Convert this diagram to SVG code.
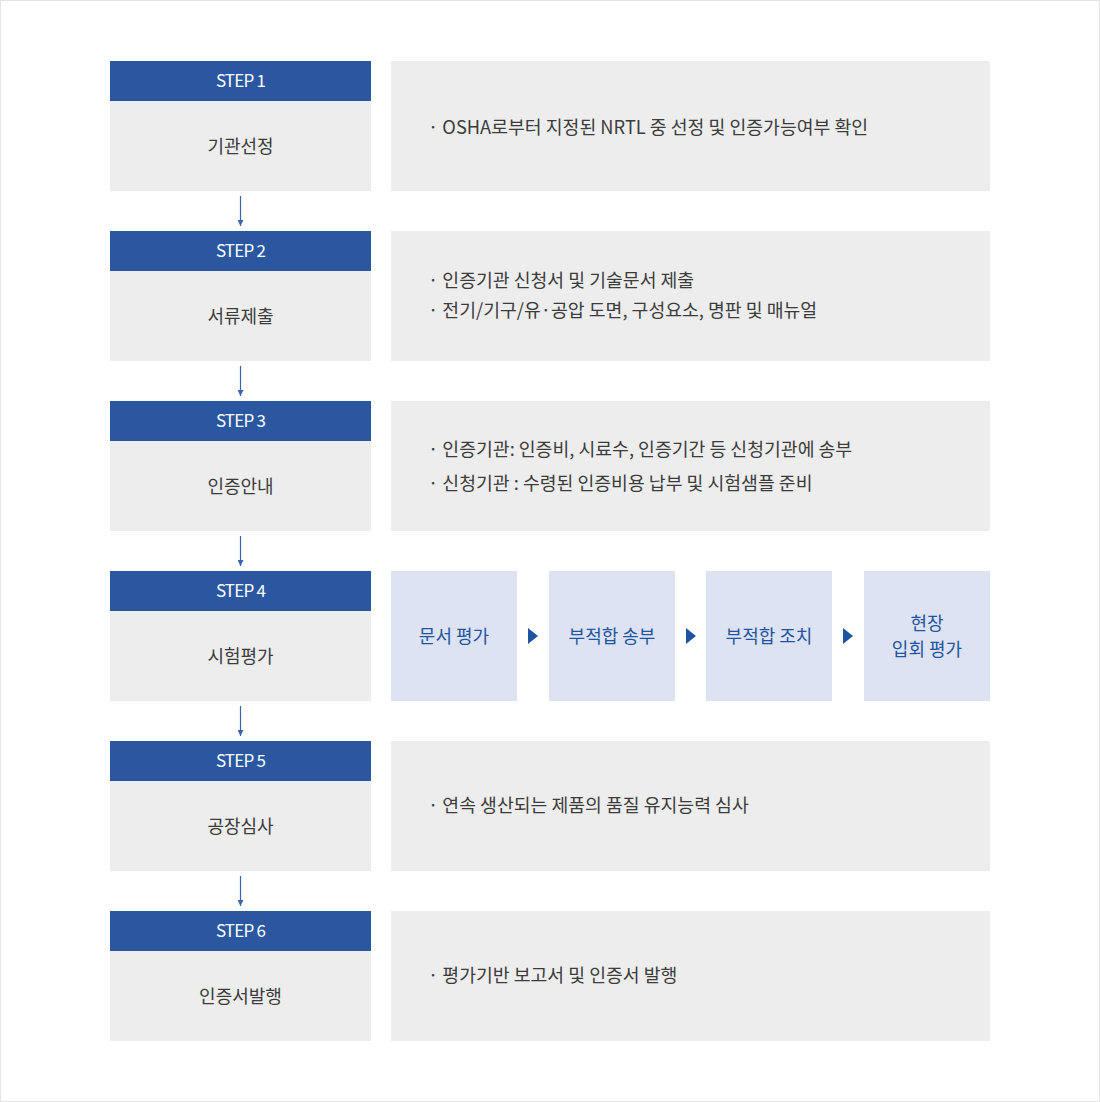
<svg xmlns="http://www.w3.org/2000/svg" width="1100" height="1102" viewBox="0 0 1100 1102">
<defs>
<style>
.hd{fill:#2a57a0}
.bd{fill:#ededed}
.pn{fill:#ededed}
.sb{fill:#dde3f2}
.ht{font-family:"Noto Sans CJK KR","Noto Sans",sans-serif;font-size:17px;fill:#ffffff;text-anchor:middle;letter-spacing:-0.8px}
.lt{font-family:"Noto Sans CJK KR","Noto Sans",sans-serif;font-size:18px;fill:#3c3c3c;text-anchor:middle}
.bt{font-family:"Noto Sans CJK KR","Noto Sans",sans-serif;font-size:18.3px;fill:#3c3c3c}
.st{font-family:"Noto Sans CJK KR","Noto Sans",sans-serif;font-size:18px;fill:#1f55a0;text-anchor:middle}
.cn{stroke:#3a64b0;stroke-width:1.2;fill:none}
.tri{fill:#1f55a0}
</style>
<marker id="ah" viewBox="0 0 6 6" refX="6" refY="3" markerWidth="6" markerHeight="6" markerUnits="userSpaceOnUse" orient="auto">
<path d="M0,0 L6,3 L0,6 Z" fill="#3a64b0"/>
</marker>
</defs>
<rect x="0.5" y="0.5" width="1099" height="1101" fill="#ffffff" stroke="#e4e4e4"/>

<g id="step1">
<rect class="hd" x="110" y="61" width="261" height="40"/>
<text class="ht" x="240.5" y="87">STEP 1</text>
<rect class="bd" x="110" y="101" width="261" height="90"/>
<text class="lt" x="240.5" y="153">기관선정</text>
<rect class="pn" x="391" y="61" width="599" height="130"/>
<text class="bt" x="428" y="134">· OSHA로부터 지정된 NRTL 중 선정 및 인증가능여부 확인</text>
</g>

<g id="step2">
<rect class="hd" x="110" y="231" width="261" height="40"/>
<text class="ht" x="240.5" y="257">STEP 2</text>
<rect class="bd" x="110" y="271" width="261" height="90"/>
<text class="lt" x="240.5" y="323">서류제출</text>
<rect class="pn" x="391" y="231" width="599" height="130"/>
<text class="bt" x="428" y="287">· 인증기관 신청서 및 기술문서 제출</text>
<text class="bt" x="428" y="317">· 전기/기구/유·공압 도면, 구성요소, 명판 및 매뉴얼</text>
</g>

<g id="step3">
<rect class="hd" x="110" y="401" width="261" height="40"/>
<text class="ht" x="240.5" y="427">STEP 3</text>
<rect class="bd" x="110" y="441" width="261" height="90"/>
<text class="lt" x="240.5" y="493">인증안내</text>
<rect class="pn" x="391" y="401" width="599" height="130"/>
<text class="bt" x="428" y="456">· 인증기관: 인증비, 시료수, 인증기간 등 신청기관에 송부</text>
<text class="bt" x="428" y="490">· 신청기관 : 수령된 인증비용 납부 및 시험샘플 준비</text>
</g>

<g id="step4">
<rect class="hd" x="110" y="571" width="261" height="40"/>
<text class="ht" x="240.5" y="597">STEP 4</text>
<rect class="bd" x="110" y="611" width="261" height="90"/>
<text class="lt" x="240.5" y="663">시험평가</text>
</g>
<g id="sub1">
<rect class="sb" x="391" y="571" width="126" height="130"/>
<text class="st" x="454" y="643">문서 평가</text>
</g>
<g id="sub2">
<rect class="sb" x="549" y="571" width="126" height="130"/>
<text class="st" x="612" y="643">부적합 송부</text>
</g>
<g id="sub3">
<rect class="sb" x="706" y="571" width="126" height="130"/>
<text class="st" x="769" y="643">부적합 조치</text>
</g>
<g id="sub4">
<rect class="sb" x="864" y="571" width="126" height="130"/>
<text class="st" x="927" y="630">현장</text>
<text class="st" x="927" y="656">입회 평가</text>
</g>

<g id="step5">
<rect class="hd" x="110" y="741" width="261" height="40"/>
<text class="ht" x="240.5" y="767">STEP 5</text>
<rect class="bd" x="110" y="781" width="261" height="90"/>
<text class="lt" x="240.5" y="833">공장심사</text>
<rect class="pn" x="391" y="741" width="599" height="130"/>
<text class="bt" x="428" y="812">· 연속 생산되는 제품의 품질 유지능력 심사</text>
</g>

<g id="step6">
<rect class="hd" x="110" y="911" width="261" height="40"/>
<text class="ht" x="240.5" y="937">STEP 6</text>
<rect class="bd" x="110" y="951" width="261" height="90"/>
<text class="lt" x="240.5" y="1003">인증서발행</text>
<rect class="pn" x="391" y="911" width="599" height="130"/>
<text class="bt" x="428" y="982">· 평가기반 보고서 및 인증서 발행</text>
</g>

<g id="connectors">
<line class="cn" x1="240.5" y1="196" x2="240.5" y2="226" marker-end="url(#ah)"/>
<line class="cn" x1="240.5" y1="366" x2="240.5" y2="396" marker-end="url(#ah)"/>
<line class="cn" x1="240.5" y1="536" x2="240.5" y2="566" marker-end="url(#ah)"/>
<line class="cn" x1="240.5" y1="706" x2="240.5" y2="736" marker-end="url(#ah)"/>
<line class="cn" x1="240.5" y1="876" x2="240.5" y2="906" marker-end="url(#ah)"/>
<polygon class="tri" points="528,628 538,636 528,644"/>
<polygon class="tri" points="686,628 696,636 686,644"/>
<polygon class="tri" points="843,628 853,636 843,644"/>
</g>
</svg>
